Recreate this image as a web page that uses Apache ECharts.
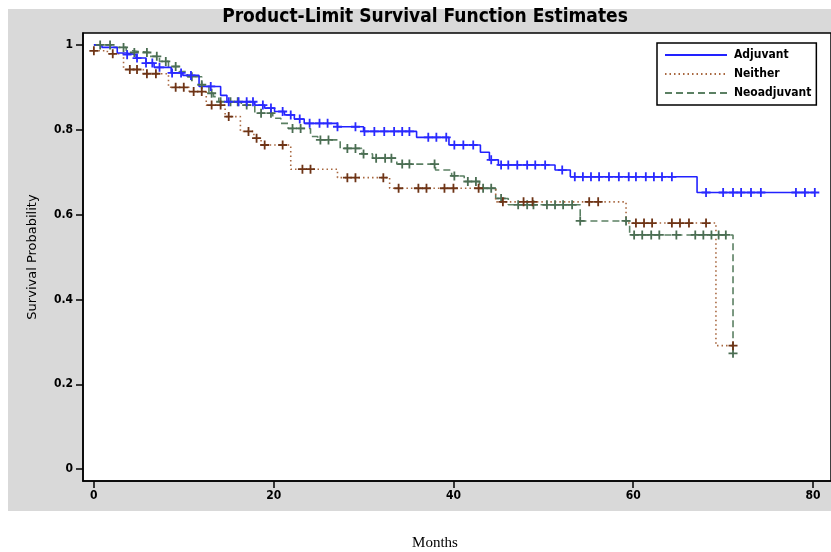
<!DOCTYPE html>
<html>
<head>
    <meta charset="UTF-8">
    <title>Product-Limit Survival Function Estimates</title>
    <script src="https://cdn.jsdelivr.net/npm/echarts@6/dist/echarts.min.js"></script>
    <style>
        html, body { margin: 0; padding: 0; background: #fff; }
        #main { width: 831px; height: 552px; }
    </style>
</head>
<body>
<div id="main"></div>
<script type="text/javascript">
    var groupNames = ['Adjuvant', 'Neither', 'Neoadjuvant'];

    // Adjuvant: step times / survival after step / censored times
    var adjTimes = [0, 0.9, 2.6, 3.6, 4.7, 5.8, 6.7, 8.6, 9.9, 11.7, 14.1, 14.8, 17.9, 19.0, 20.1, 21.2, 22.3, 23.4, 27.1, 30.0, 35.9, 39.5, 43.0, 44.0, 45.0, 51.3, 53.0, 67.1];
    var adjSurv = [1.0, 0.994, 0.981, 0.977, 0.969, 0.957, 0.947, 0.934, 0.928, 0.902, 0.881, 0.866, 0.858, 0.851, 0.843, 0.835, 0.825, 0.815, 0.807, 0.796, 0.782, 0.764, 0.747, 0.729, 0.717, 0.705, 0.689, 0.652];
    var adjCensor = [3.7, 4.8, 5.8, 6.5, 7.3, 8.7, 9.7, 10.8, 13.0, 15.0, 16.1, 17.0, 17.7, 18.8, 19.7, 21.0, 21.9, 22.9, 24.0, 25.1, 26.0, 27.1, 29.1, 30.1, 31.2, 32.3, 33.4, 34.3, 35.1, 37.2, 38.1, 39.2, 40.1, 41.1, 42.2, 44.2, 45.3, 46.1, 47.1, 48.2, 49.1, 50.2, 52.1, 53.5, 54.4, 55.3, 56.2, 57.3, 58.4, 59.5, 60.3, 61.4, 62.3, 63.2, 64.3, 68.1, 70.0, 71.1, 72.0, 73.1, 74.2, 78.1, 79.1, 80.2];

    // Neither
    var neiTimes = [0, 1.5, 3.3, 5.5, 8.3, 10.6, 12.5, 14.6, 16.3, 17.8, 18.6, 21.9, 27.1, 32.9, 44.7, 59.2, 69.2];
    var neiSurv = [0.986, 0.979, 0.942, 0.932, 0.900, 0.890, 0.858, 0.831, 0.796, 0.780, 0.764, 0.707, 0.687, 0.662, 0.630, 0.580, 0.291];
    var neiCensor = [0, 2.1, 4.0, 4.8, 5.9, 6.9, 9.1, 10.0, 11.1, 12.0, 13.1, 14.1, 15.0, 17.2, 18.1, 19.0, 21.0, 23.2, 24.1, 28.2, 29.1, 32.2, 33.9, 36.1, 37.0, 39.0, 40.0, 42.8, 45.5, 47.8, 48.8, 55.1, 56.1, 60.3, 61.2, 62.1, 64.3, 65.2, 66.2, 68.1, 71.1];

    // Neoadjuvant
    var neoTimes = [0, 2.0, 3.6, 4.3, 6.2, 7.3, 8.3, 9.5, 10.4, 12.0, 12.8, 13.3, 13.9, 16.4, 17.9, 19.9, 20.8, 21.6, 24.1, 24.9, 27.4, 29.8, 31.0, 33.7, 38.0, 39.8, 41.2, 42.9, 44.7, 46.1, 54.1, 59.6, 71.1];
    var neoSurv = [1.0, 0.994, 0.986, 0.982, 0.973, 0.961, 0.949, 0.937, 0.925, 0.906, 0.886, 0.878, 0.866, 0.858, 0.839, 0.827, 0.815, 0.803, 0.784, 0.776, 0.756, 0.743, 0.733, 0.719, 0.705, 0.691, 0.678, 0.662, 0.638, 0.623, 0.585, 0.552, 0.273];
    var neoCensor = [0.7, 1.8, 3.3, 4.5, 5.9, 7.0, 8.0, 9.1, 10.9, 12.0, 13.1, 14.1, 15.2, 16.0, 17.0, 18.6, 19.7, 22.1, 23.0, 25.2, 26.1, 28.2, 29.1, 30.0, 31.4, 32.4, 33.1, 34.3, 35.1, 37.9, 40.1, 41.6, 42.5, 43.3, 44.2, 45.3, 47.2, 48.2, 48.9, 50.4, 51.3, 52.2, 53.2, 54.1, 59.2, 60.1, 61.0, 62.0, 62.9, 64.8, 66.9, 67.8, 68.7, 69.5, 70.3, 71.1];

    var xTicks = [0, 20, 40, 60, 80];
    var yTicks = [0, 0.2, 0.4, 0.6, 0.8, 1];

    var lineColors = ['#2222ff', '#a8673f', '#5b8063'];
    var markColors = ['#2a2aff', '#6e3416', '#4b6e53'];
    var condFont = "'DejaVu Sans Condensed', 'Liberation Sans Narrow', 'DejaVu Sans', sans-serif";

    // step line points, extended flat to the last censored time
    function stepData(times, surv, cens) {
        var pts = [];
        for (var i = 0; i < times.length; i++) pts.push([times[i], surv[i]]);
        var lastT = cens[cens.length - 1];
        if (lastT > times[times.length - 1]) pts.push([lastT, surv[surv.length - 1]]);
        return pts;
    }

    // censored marks sit on the curve
    function censorData(times, surv, cens) {
        return cens.map(function (t) {
            var s = surv[0];
            for (var i = 0; i < times.length; i++) {
                if (times[i] <= t) s = surv[i];
            }
            return [t, s];
        });
    }

    var plusPath = 'path://M4,0H6V4H10V6H6V10H4V6H0V4H4Z';
    var groups = [
        [adjTimes, adjSurv, adjCensor, 'solid', 1.6],
        [neiTimes, neiSurv, neiCensor, [1.5, 3], 1.6],
        [neoTimes, neoSurv, neoCensor, [7, 4], 1.6]
    ];

    var series = [];
    groups.forEach(function (g, k) {
        series.push({
            name: groupNames[k],
            type: 'line',
            step: 'end',
            symbol: 'none',
            showSymbol: false,
            data: stepData(g[0], g[1], g[2]),
            lineStyle: {color: lineColors[k], width: g[4], type: g[3]},
            itemStyle: {color: lineColors[k]},
            z: 3 - k,
            animation: false
        });
    });
    groups.forEach(function (g, k) {
        series.push({
            name: groupNames[k] + ' censored',
            type: 'scatter',
            symbol: plusPath,
            symbolSize: 9,
            data: censorData(g[0], g[1], g[2]),
            itemStyle: {color: markColors[k], opacity: 1},
            z: 6 - k,
            animation: false
        });
    });

    var myChart = echarts.init(document.getElementById('main'));
    var option = {
        animation: false,
        graphic: [
            {type: 'rect', z: -100, silent: true, shape: {x: 8, y: 9, width: 823, height: 502}, style: {fill: '#d9d9d9'}},
            {type: 'text', x: 425, y: 17, style: {text: 'Product-Limit Survival Function Estimates', font: 'bold 19px ' + condFont, fill: '#000', align: 'center', verticalAlign: 'middle'}},
            {type: 'text', x: 435, y: 543, style: {text: 'Months', font: "15px 'Liberation Serif', 'DejaVu Serif', serif", fill: '#000', align: 'center', verticalAlign: 'middle'}}
        ],
        legend: {
            data: groupNames,
            orient: 'vertical',
            left: 657,
            top: 43,
            padding: [6, 5, 6, 7],
            itemWidth: 62,
            itemHeight: 14,
            itemGap: 7,
            backgroundColor: '#fff',
            borderColor: '#000',
            borderWidth: 1.5,
            itemStyle: {opacity: 0},
            textStyle: {fontWeight: 'bold', fontSize: 12, color: '#000', fontFamily: condFont, padding: [0, 0, 0, 2]}
        },
        grid: {
            left: 83, top: 33, bottom: 71, right: -8,
            show: true, backgroundColor: '#fff', borderColor: '#000', borderWidth: 1.5,
            containLabel: false
        },
        xAxis: {
            type: 'value',
            min: -1.21,
            max: 82,
            axisLine: {show: true, onZero: false, lineStyle: {color: '#000', width: 1.5}},
            axisTick: {show: true, customValues: xTicks, length: 7, lineStyle: {color: '#000', width: 1.5}},
            axisLabel: {customValues: xTicks, color: '#000', fontWeight: 'bold', fontSize: 12, fontFamily: condFont, margin: 9},
            splitLine: {show: false}
        },
        yAxis: {
            type: 'value',
            min: -0.028,
            max: 1.028,
            name: 'Survival Probability',
            nameLocation: 'middle',
            nameGap: 44,
            nameTextStyle: {color: '#000', fontSize: 13, fontFamily: "'DejaVu Sans', Verdana, sans-serif"},
            axisLine: {show: true, onZero: false, lineStyle: {color: '#000', width: 1.5}},
            axisTick: {show: true, customValues: yTicks, length: 7, lineStyle: {color: '#000', width: 1.5}},
            axisLabel: {customValues: yTicks, color: '#000', fontWeight: 'bold', fontSize: 12, fontFamily: condFont, margin: 10},
            splitLine: {show: false}
        },
        series: series
    };
    myChart.setOption(option);
</script>
</body>
</html>
